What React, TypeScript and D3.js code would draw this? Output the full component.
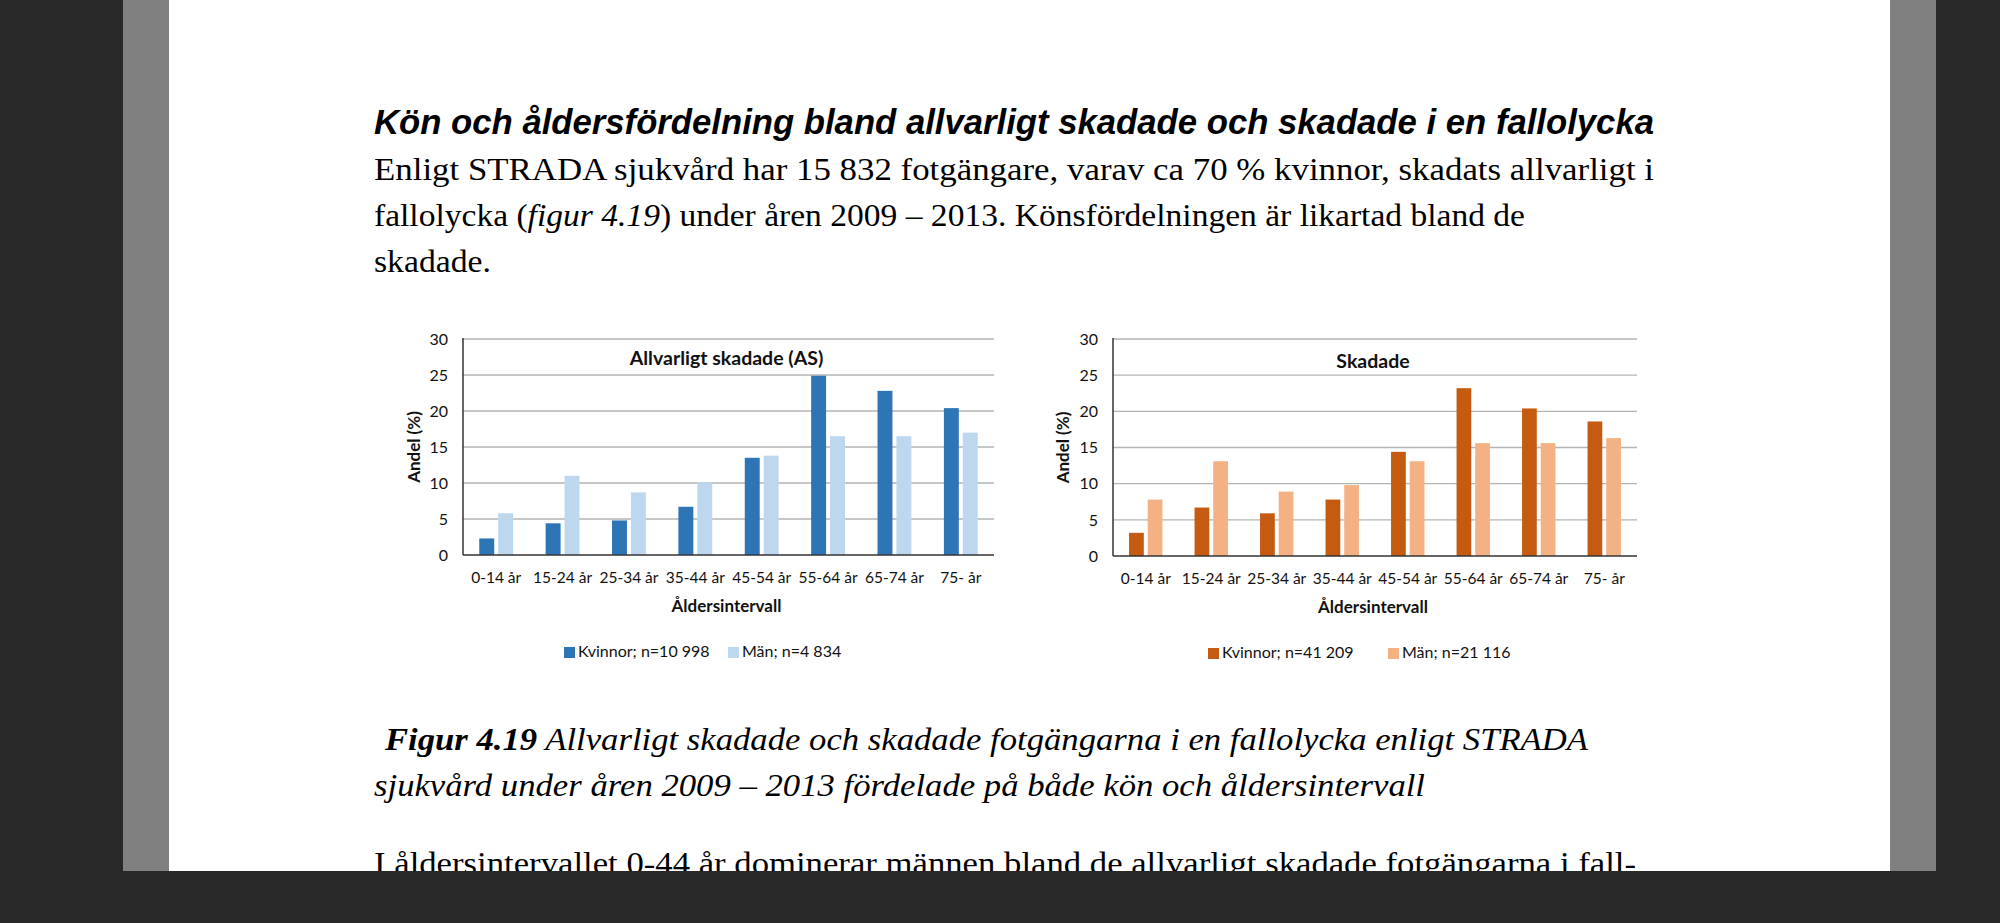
import { scaleBand, scaleLinear } from 'd3'

const AGE_GROUPS = ['0-14 år', '15-24 år', '25-34 år', '35-44 år', '45-54 år', '55-64 år', '65-74 år', '75- år']
const Y_TICKS = [0, 5, 10, 15, 20, 25, 30]

// Allvarligt skadade (AS)
const AS_WOMEN = [2.3, 4.4, 4.8, 6.7, 13.5, 24.9, 22.8, 20.4]
const AS_MEN = [5.8, 11.0, 8.7, 10.1, 13.8, 16.5, 16.5, 17.0]

// Skadade
const INJ_WOMEN = [3.2, 6.7, 5.9, 7.8, 14.4, 23.2, 20.4, 18.6]
const INJ_MEN = [7.8, 13.1, 8.9, 9.8, 13.1, 15.6, 15.6, 16.3]

const SERIES = ['Kvinnor', 'Män']

const CHART_FONT = 'Lato, "Open Sans", sans-serif'
const SERIF = '"Liberation Serif", "DejaVu Serif", serif'
const SANS = '"Liberation Sans", Arial, sans-serif'

interface ChartProps {
  left: number
  right: number
  top: number
  bottom: number
  title: string
  titleY: number
  women: number[]
  men: number[]
  colors: [string, string]
  legendLabels: [string, string]
  legendX: [number, number]
  yTitleX: number
}

function BarChart(props: ChartProps) {
  const { left, right, top, bottom, title, titleY, women, men, colors, legendLabels, legendX, yTitleX } = props
  const x0 = scaleBand<string>().domain(AGE_GROUPS).range([left, right]).paddingInner(0.49).paddingOuter(0.245)
  const x1 = scaleBand<string>().domain(SERIES).range([0, x0.bandwidth()]).paddingInner(0.21)
  const y = scaleLinear().domain([0, 30]).range([bottom, top])
  const center = (left + right) / 2 - 2

  return (
    <g fontFamily={CHART_FONT}>
      {Y_TICKS.map((t) => (
        <g key={t}>
          {t > 0 && <line x1={left} x2={right} y1={y(t)} y2={y(t)} stroke="#b4b4b4" strokeWidth={1.3} />}
          <text x={left - 15} y={y(t)} dy="0.36em" textAnchor="end" fontSize={16} fill="#111">
            {t}
          </text>
        </g>
      ))}
      {AGE_GROUPS.map((g, i) => (
        <g key={g} transform={`translate(${x0(g)},0)`}>
          <rect x={x1('Kvinnor')} y={y(women[i])} width={x1.bandwidth()} height={bottom - y(women[i])} fill={colors[0]} />
          <rect x={x1('Män')} y={y(men[i])} width={x1.bandwidth()} height={bottom - y(men[i])} fill={colors[1]} />
          <text x={x0.bandwidth() / 2} y={bottom + 28} textAnchor="middle" fontSize={15.5} fill="#111">
            {g}
          </text>
        </g>
      ))}
      <line x1={left} x2={left} y1={top - 1} y2={bottom} stroke="#333" strokeWidth={1.5} />
      <line x1={left} x2={right} y1={bottom} y2={bottom} stroke="#333" strokeWidth={1.5} />
      <text x={center} y={titleY} textAnchor="middle" fontSize={19.5} fontWeight="bold" fill="#111">
        {title}
      </text>
      <text x={center} y={bottom + 57} textAnchor="middle" fontSize={17} fontWeight="bold" fill="#111">
        Åldersintervall
      </text>
      <text
        transform={`translate(${yTitleX},${(top + bottom) / 2}) rotate(-90)`}
        textAnchor="middle"
        dy="0.35em"
        fontSize={17}
        fontWeight="bold"
        fill="#111"
      >
        Andel (%)
      </text>
      {legendLabels.map((label, i) => (
        <g key={label} transform={`translate(${legendX[i]},${bottom + 92})`}>
          <rect x={0} y={0} width={11} height={11} fill={colors[i]} />
          <text x={14} y={10} fontSize={16} fill="#111">
            {label}
          </text>
        </g>
      ))}
    </g>
  )
}

export default function App() {
  return (
    <div style={{ position: 'fixed', left: 0, top: 0 }}>
      <svg width={2000} height={923} viewBox="0 0 2000 923" style={{ display: 'block' }}>
        <rect x={0} y={0} width={2000} height={923} fill="#282828" />
        <rect x={123} y={0} width={1813} height={871} fill="#808080" />
        <rect x={169} y={0} width={1721} height={871} fill="#ffffff" />

        <text x={374} y={134} fontFamily={SANS} fontWeight="bold" fontStyle="italic" fontSize={34.5} textLength={1280} lengthAdjust="spacingAndGlyphs" fill="#000">
          Kön och åldersfördelning bland allvarligt skadade och skadade i en fallolycka
        </text>
        <g fontFamily={SERIF} fontSize={32} fill="#000">
          <text x={374} y={180} textLength={1280} lengthAdjust="spacingAndGlyphs">
            Enligt STRADA sjukvård har 15 832 fotgängare, varav ca 70 % kvinnor, skadats allvarligt i
          </text>
          <text x={374} y={226} textLength={1151} lengthAdjust="spacingAndGlyphs">
            fallolycka (<tspan fontStyle="italic">figur 4.19</tspan>) under åren 2009 – 2013. Könsfördelningen är likartad bland de
          </text>
          <text x={374} y={272} textLength={117} lengthAdjust="spacingAndGlyphs">
            skadade.
          </text>
          <text x={385} y={750} fontStyle="italic" textLength={1203} lengthAdjust="spacingAndGlyphs">
            <tspan fontWeight="bold">Figur 4.19</tspan> Allvarligt skadade och skadade fotgängarna i en fallolycka enligt STRADA
          </text>
          <text x={374} y={796} fontStyle="italic" textLength={1051} lengthAdjust="spacingAndGlyphs">
            sjukvård under åren 2009 – 2013 fördelade på både kön och åldersintervall
          </text>
          <text x={374} y={874} textLength={1262} lengthAdjust="spacingAndGlyphs">
            I åldersintervallet 0-44 år dominerar männen bland de allvarligt skadade fotgängarna i fall-
          </text>
        </g>

        <BarChart
          left={463}
          right={994}
          top={339}
          bottom={555}
          title="Allvarligt skadade (AS)"
          titleY={365}
          women={AS_WOMEN}
          men={AS_MEN}
          colors={['#2e75b6', '#bdd7ee']}
          legendLabels={['Kvinnor; n=10 998', 'Män; n=4 834']}
          legendX={[564, 728]}
          yTitleX={414}
        />
        <BarChart
          left={1113}
          right={1637}
          top={339}
          bottom={556}
          title="Skadade"
          titleY={368}
          women={INJ_WOMEN}
          men={INJ_MEN}
          colors={['#c55a11', '#f4b183']}
          legendLabels={['Kvinnor; n=41 209', 'Män; n=21 116']}
          legendX={[1208, 1388]}
          yTitleX={1063}
        />

        <rect x={0} y={871} width={2000} height={52} fill="#282828" />
      </svg>
    </div>
  )
}
